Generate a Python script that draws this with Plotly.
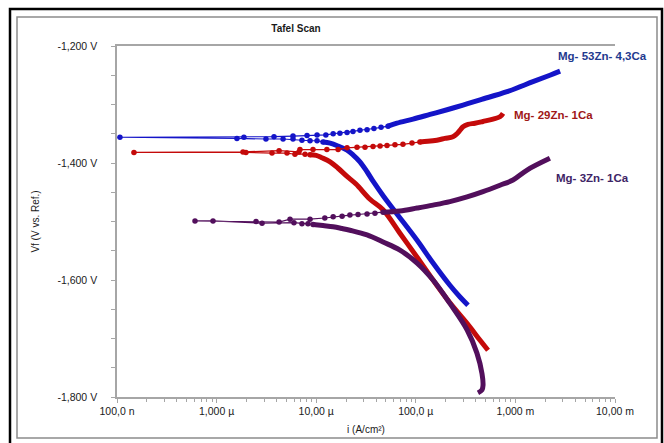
import plotly.graph_objects as go

# ---------------- data (current density A/cm2, potential V) ----------------
# Mg-53Zn-4,3Ca (blue)
blue_near_i = [1.17e-5, 1.02e-5, 8.67e-6, 7.19e-6, 5.85e-6, 4.65e-6, 3.13e-6, 1.60e-6, 1.07e-7,
               1.88e-6, 3.77e-6, 5.85e-6, 8.09e-6, 1.02e-5, 1.25e-5, 1.48e-5, 1.73e-5, 2.04e-5,
               2.34e-5, 2.75e-5, 3.24e-5, 3.80e-5, 4.48e-5, 5.26e-5]
blue_near_v = [-1.364, -1.362, -1.362, -1.361, -1.359, -1.359, -1.359, -1.358, -1.356,
               -1.356, -1.355, -1.354, -1.353, -1.352, -1.352, -1.350, -1.349, -1.348,
               -1.346, -1.344, -1.343, -1.341, -1.339, -1.337]
blue_cath_i = [1.17e-5, 1.38e-5, 1.66e-5, 2.04e-5, 2.34e-5, 2.75e-5, 3.24e-5, 3.72e-5, 4.80e-5,
               6.47e-5, 1.03e-4, 1.49e-4, 2.20e-4, 2.78e-4, 3.34e-4]
blue_cath_v = [-1.364, -1.366, -1.371, -1.378, -1.386, -1.398, -1.415, -1.431, -1.458,
               -1.487, -1.532, -1.571, -1.609, -1.629, -1.643]
blue_anod_i = [5.26e-5, 6.47e-5, 9.38e-5, 1.39e-4, 2.06e-4, 2.98e-4, 4.42e-4, 8.24e-4, 1.50e-3,
               2.22e-3, 2.81e-3]
blue_anod_v = [-1.337, -1.332, -1.325, -1.317, -1.309, -1.301, -1.292, -1.278, -1.261,
               -1.250, -1.243]

# Mg-29Zn-1Ca (red)
red_near_i = [8.67e-6, 7.73e-6, 6.12e-6, 5.09e-6, 3.60e-6, 1.97e-6, 1.48e-7,
              1.84e-6, 4.24e-6, 6.71e-6, 6.87e-6, 9.29e-6, 1.28e-5, 1.66e-5, 2.04e-5, 2.57e-5,
              3.09e-5, 3.72e-5, 4.38e-5, 5.14e-5, 6.18e-5, 7.43e-5, 9.16e-5, 1.10e-4]
red_near_v = [-1.386, -1.385, -1.385, -1.383, -1.383, -1.382, -1.382,
              -1.381, -1.379, -1.381, -1.377, -1.377, -1.377, -1.377, -1.374, -1.373,
              -1.373, -1.372, -1.371, -1.370, -1.369, -1.368, -1.366, -1.364]
red_cath_i = [8.67e-6, 1.00e-5, 1.14e-5, 1.38e-5, 1.66e-5, 2.04e-5, 2.51e-5, 3.47e-5, 4.69e-5,
              6.93e-5, 1.03e-4, 1.49e-4, 2.20e-4, 3.27e-4, 4.42e-4, 5.31e-4]
red_cath_v = [-1.386, -1.387, -1.391, -1.398, -1.409, -1.423, -1.436, -1.462, -1.480,
              -1.520, -1.561, -1.600, -1.639, -1.674, -1.703, -1.720]
red_anod_i = [1.10e-4, 1.32e-4, 1.63e-4, 1.96e-4, 2.36e-4, 2.59e-4, 2.78e-4, 2.98e-4, 3.34e-4,
              3.93e-4, 4.73e-4, 5.96e-4, 7.00e-4, 7.52e-4]
red_anod_v = [-1.364, -1.363, -1.361, -1.358, -1.355, -1.350, -1.344, -1.338, -1.334,
              -1.332, -1.329, -1.325, -1.321, -1.315]

# Mg-3Zn-1Ca (purple)
pur_near_i = [9.29e-6, 8.27e-6, 7.19e-6, 5.98e-6, 2.86e-6, 9.20e-7, 6.07e-7,
              2.49e-6, 4.24e-6, 5.46e-6, 8.67e-6, 1.22e-5, 1.48e-5, 1.82e-5, 2.18e-5, 2.63e-5,
              3.24e-5, 3.89e-5, 4.69e-5]
pur_near_v = [-1.505, -1.504, -1.504, -1.502, -1.503, -1.499, -1.499,
              -1.500, -1.501, -1.496, -1.496, -1.494, -1.492, -1.491, -1.489, -1.488,
              -1.487, -1.486, -1.484]
pur_cath_i = [9.29e-6, 1.17e-5, 1.48e-5, 1.82e-5, 2.18e-5, 3.24e-5, 4.69e-5, 6.93e-5, 1.03e-4,
              1.49e-4, 2.20e-4, 3.27e-4, 4.11e-4, 4.62e-4, 4.73e-4, 4.62e-4, 4.21e-4]
pur_cath_v = [-1.505, -1.507, -1.509, -1.512, -1.515, -1.523, -1.535, -1.549, -1.571,
              -1.600, -1.640, -1.685, -1.725, -1.760, -1.780, -1.788, -1.793]
pur_anod_i = [4.69e-5, 6.93e-5, 1.03e-4, 1.49e-4, 2.20e-4, 3.27e-4, 4.73e-4, 7.00e-4, 9.46e-4,
              1.31e-3, 2.22e-3]
pur_anod_v = [-1.484, -1.482, -1.477, -1.472, -1.466, -1.458, -1.449, -1.438, -1.429,
              -1.412, -1.392]

series_names = ["Mg- 53Zn- 4,3Ca", "Mg- 29Zn- 1Ca", "Mg- 3Zn- 1Ca"]

x_tickvals = [1e-7, 1e-6, 1e-5, 1e-4, 1e-3, 1e-2]
x_ticktext = ["100,0 n", "1,000 µ", "10,00 µ", "100,0 µ", "1,000 m", "10,00 m"]
y_tickvals = [-1.2, -1.4, -1.6, -1.8]
y_ticktext = ["-1,200 V", "-1,400 V", "-1,600 V", "-1,800 V"]

# ---------------- style ----------------
W, H = 664, 443
L, R, T, B = 117, 49, 46, 46
PW, PH = W - L - R, H - T - B


def px(x):
    return (x - L) / PW


def py(y):
    return (H - B - y) / PH


line_cols = ["#1414C8", "#C40A0A", "#520F5C"]
label_cols = ["#1F3A8F", "#A01818", "#3E2466"]
FONT = "Liberation Sans, Arial, sans-serif"
TXT = "#1a1a1a"

fig = go.Figure()
groups = [
    (blue_near_i, blue_near_v, blue_cath_i, blue_cath_v, blue_anod_i, blue_anod_v),
    (red_near_i, red_near_v, red_cath_i, red_cath_v, red_anod_i, red_anod_v),
    (pur_near_i, pur_near_v, pur_cath_i, pur_cath_v, pur_anod_i, pur_anod_v),
]
for k, (ni, nv, ci, cv, ai, av) in enumerate(groups):
    col = line_cols[k]
    fig.add_trace(go.Scatter(x=ci, y=cv, mode="lines", line=dict(color=col, width=5, shape="spline"),
                             showlegend=False, hoverinfo="skip"))
    fig.add_trace(go.Scatter(x=ai, y=av, mode="lines", line=dict(color=col, width=5, shape="spline"),
                             showlegend=False, hoverinfo="skip"))
    fig.add_trace(go.Scatter(x=ni, y=nv, mode="lines+markers", name=series_names[k],
                             line=dict(color=col, width=1.2),
                             marker=dict(color=col, size=5.5), showlegend=False))

minor_x = [m * 10 ** e for e in range(-7, -2) for m in range(2, 10)]

fig.update_xaxes(type="log", range=[-7, -2], tickvals=x_tickvals, ticktext=x_ticktext,
                 showgrid=False, zeroline=False, showline=True, linecolor="#A6A6A6", linewidth=1.5,
                 mirror=True, ticks="outside", ticklen=4, tickcolor="#A6A6A6", tickwidth=1,
                 minor=dict(tickvals=minor_x, ticks="outside", ticklen=3, tickcolor="#A6A6A6", showgrid=False),
                 tickfont=dict(family=FONT, size=10.5, color=TXT),
                 title=dict(text="i (A/cm²)", font=dict(family=FONT, size=10, color=TXT), standoff=10))
fig.update_yaxes(range=[-1.8, -1.2], tickvals=y_tickvals, ticktext=y_ticktext,
                 showgrid=False, zeroline=False, showline=True, linecolor="#A6A6A6", linewidth=1.5,
                 ticks="outside", ticklen=4, tickcolor="#A6A6A6", tickwidth=1,
                 minor=dict(dtick=0.05, ticks="outside", ticklen=4, tickcolor="#A6A6A6", showgrid=False),
                 tickfont=dict(family=FONT, size=10.5, color=TXT), ticklabelstandoff=12,
                 title=dict(text="Vf (V vs. Ref.)", font=dict(family=FONT, size=10, color=TXT), standoff=16))

shapes = [
    dict(type="rect", xref="paper", yref="paper", x0=px(10), x1=px(662), y0=py(447), y1=py(9),
         line=dict(color="black", width=2.5), layer="below"),
    dict(type="rect", xref="paper", yref="paper", x0=px(17), x1=px(657), y0=py(438), y1=py(17),
         line=dict(color="#8C8C8C", width=1.5), layer="below"),
]

label_pos = [(556, 56), (512, 115), (554, 178)]
annotations = [dict(xref="paper", yref="paper", x=px(x), y=py(y), xanchor="left", yanchor="middle",
                    text="<b>" + series_names[k] + "</b>", showarrow=False,
                    font=dict(family=FONT, size=11.5, color=label_cols[k]))
               for k, (x, y) in enumerate(label_pos)]

fig.update_layout(width=W, height=H, margin=dict(l=L, r=R, t=T, b=B, autoexpand=False),
                  paper_bgcolor="white", plot_bgcolor="white",
                  title=dict(text="<b>Tafel Scan</b>", x=px(339), xanchor="center", y=1 - 28 / H, yanchor="middle",
                             font=dict(family=FONT, size=10, color=TXT)),
                  shapes=shapes, annotations=annotations, showlegend=False)

fig.write_html("out.html", config={"displayModeBar": False},
               post_script="document.body.style.margin='0';")
